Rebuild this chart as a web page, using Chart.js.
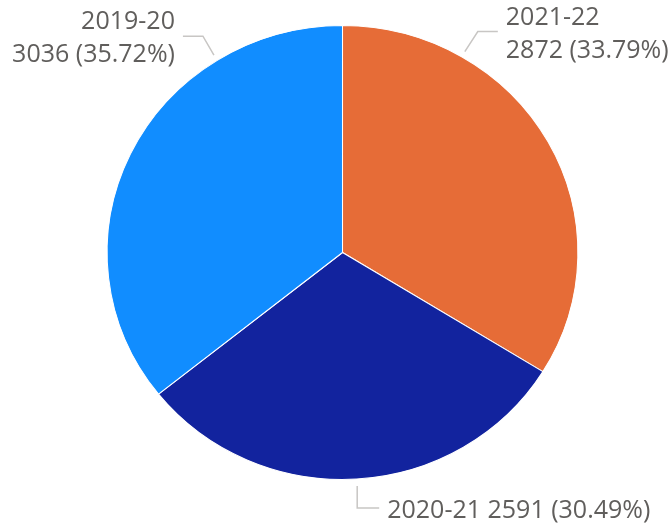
<!DOCTYPE html>
<html>
<head>
<meta charset="utf-8">
<script src="https://cdn.jsdelivr.net/npm/chart.js@4.4.1/dist/chart.umd.min.js"></script>
<style>
  html, body { margin: 0; padding: 0; background: #ffffff; }
  #wrap { width: 671px; height: 527px; position: relative; }
</style>
</head>
<body>
<div id="wrap"><canvas id="pie"></canvas></div>
<script>
// Data (clockwise from 12 o'clock)
const categories = ['2021-22', '2020-21', '2019-20'];
const values = [2872, 2591, 3036];
const sliceColors = ['#E66C37', '#12239E', '#118DFF'];

// Label placement: fraction along slice, gap off the rim, elbow, tail, text side
const labelLayout = [
    { frac: 0.25, gap: 6, elbow: [13, -20], tail: 20, align: 'left', split: true },
    { frac: 0.5, gap: 7, elbow: [0, 22], tail: 22, align: 'left', split: false },
    { frac: 0.75, gap: 6, elbow: [-11, -19], tail: -20, align: 'right', split: true }
];

const labelColor = '#605E5C';
const leaderColor = '#C8C6C4';
const stretchX = 1.037; // the reference pie is slightly wider than tall

// Stretch the pie a touch horizontally
const stretchPlugin = {
    id: 'stretch',
    beforeDatasetsDraw(chart) {
        const arc = chart.getDatasetMeta(0).data[0];
        const ctx = chart.ctx;
        ctx.save();
        ctx.translate(arc.x, arc.y);
        ctx.scale(stretchX, 1);
        ctx.translate(-arc.x, -arc.y);
    },
    afterDatasetsDraw(chart) {
        chart.ctx.restore();
    }
};

// Data labels with leader lines
const labelPlugin = {
    id: 'pieLabels',
    afterDraw(chart) {
        const ctx = chart.ctx;
        const arcs = chart.getDatasetMeta(0).data;
        const total = values.reduce((a, b) => a + b, 0);
        ctx.save();
        ctx.font = '25px "Open Sans"';
        ctx.textBaseline = 'middle';
        arcs.forEach((arc, i) => {
            const lay = labelLayout[i];
            const p = arc.getProps(['x', 'y', 'startAngle', 'endAngle', 'outerRadius'], true);
            const a = p.startAngle + (p.endAngle - p.startAngle) * lay.frac;
            const r = p.outerRadius + lay.gap;
            const sx = p.x + Math.cos(a) * r * stretchX;
            const sy = p.y + Math.sin(a) * r;
            const ex = sx + lay.elbow[0];
            const ey = sy + lay.elbow[1];
            const hx = ex + lay.tail;

            ctx.strokeStyle = leaderColor;
            ctx.lineWidth = 1.5;
            ctx.beginPath();
            ctx.moveTo(sx, sy);
            ctx.lineTo(ex, ey);
            ctx.lineTo(hx, ey);
            ctx.stroke();

            const pct = (values[i] / total * 100).toFixed(2) + '%';
            const valueText = values[i] + ' (' + pct + ')';
            ctx.fillStyle = labelColor;
            ctx.textAlign = lay.align;
            const tx = lay.align === 'left' ? hx + 8 : hx - 8;
            if (lay.split) {
                ctx.fillText(categories[i], tx, ey - 14);
                ctx.fillText(valueText, tx, ey + 19);
            } else {
                ctx.fillText(categories[i] + ' ' + valueText, tx, ey + 3);
            }
        });
        ctx.restore();
    }
};

new Chart(document.getElementById('pie'), {
    type: 'pie',
    data: {
        labels: categories,
        datasets: [{
            data: values,
            backgroundColor: sliceColors,
            borderColor: '#ffffff',
            borderWidth: 1
        }]
    },
    options: {
        responsive: true,
        maintainAspectRatio: false,
        animation: false,
        radius: 227,
        layout: { padding: { left: 14, right: 0, top: 0, bottom: 22 } },
        plugins: {
            legend: { display: false },
            tooltip: { enabled: false }
        }
    },
    plugins: [stretchPlugin, labelPlugin]
});
</script>
</body>
</html>
